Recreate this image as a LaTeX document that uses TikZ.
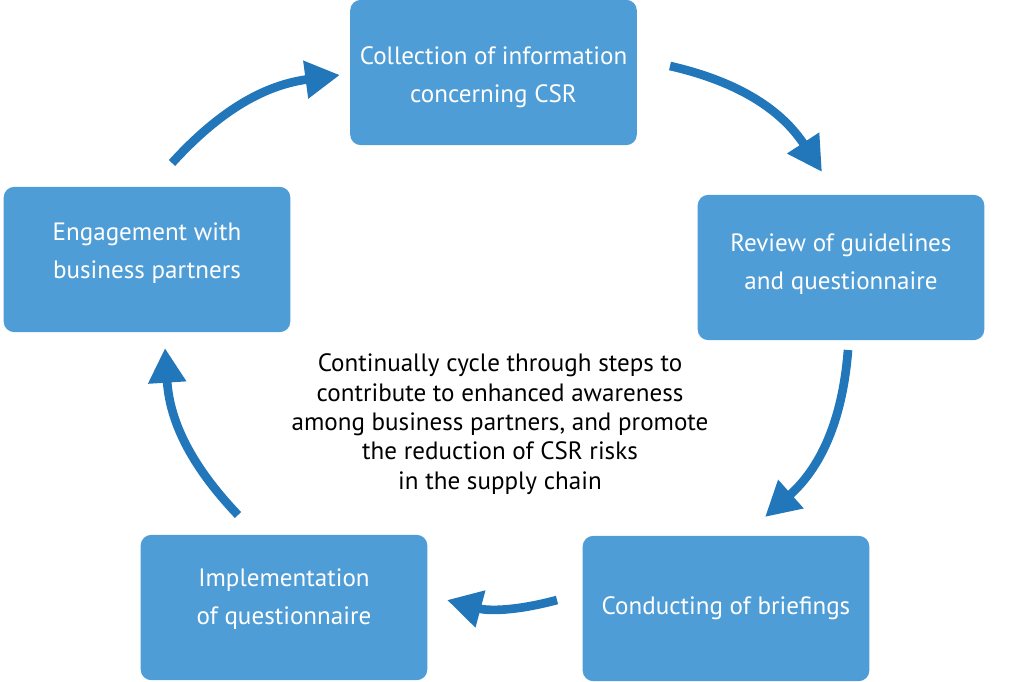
\documentclass[tikz,border=0pt]{standalone}
\usepackage{fontspec}
\setmainfont{PT Sans}
\usetikzlibrary{arrows.meta,positioning}
\definecolor{boxblue}{HTML}{4F9DD6}
\definecolor{arrowblue}{HTML}{2277BB}

\begin{document}
\begin{tikzpicture}[x=0.75pt,y=-0.75pt,>={Triangle[length=26pt,width=27pt]},
  stepbox/.style={fill=boxblue,rounded corners=8pt,minimum width=215pt,minimum height=109pt,
    inner sep=0pt,align=center,text=white,font=\fontsize{18.8}{29}\selectfont},
  twoline/.style={text height=43pt,text depth=5pt},
  cyc/.style={draw=arrowblue,line width=6.5pt,->}]
  \useasboundingbox (0,0) rectangle (1009,681);

  \node[stepbox,twoline,text height=50.5pt] (collect) at (493.5,72.5) {Collection of information\\concerning CSR};
  \node[stepbox,twoline,text depth=9.5pt]   (review)  at (841,267.5)  {Review of guidelines\\and questionnaire};
  \node[stepbox]                            (brief)   at (726,608.5)  {Conducting of briefings};
  \node[stepbox,twoline,text depth=17pt]    (impl)    at (284,607.5)  {Implementation\\of questionnaire};
  \node[stepbox,twoline,text depth=14pt]    (engage)  at (147,259.5)  {Engagement with\\business partners};

  \node[align=center,font=\fontsize{18.8}{22}\selectfont] (aim) at (500,424)
    {Continually cycle through steps to\\contribute to enhanced awareness\\among business partners, and promote\\the reduction of CSR risks\\in the supply chain};

  % free ends of the cycle arrows
  \coordinate (a1s) at (172,163); \coordinate (a1e) at (340,75);
  \coordinate (a2s) at (670,66);  \coordinate (a2e) at (822,172);
  \coordinate (a3s) at (848,350); \coordinate (a3e) at (765,517);
  \coordinate (a4s) at (557,600); \coordinate (a4e) at (447,600);
  \coordinate (a5s) at (238,515); \coordinate (a5e) at (165,348);

  \draw[cyc] (a1s) to[bend left=20] (a1e);
  \draw[cyc] (a2s) to[bend left=22] (a2e);
  \draw[cyc] (a3s) to[bend left=22] (a3e);
  \draw[cyc] (a4s) to[bend left=15] (a4e);
  \draw[cyc] (a5s) to[bend left=20] (a5e);
\end{tikzpicture}
\end{document}
